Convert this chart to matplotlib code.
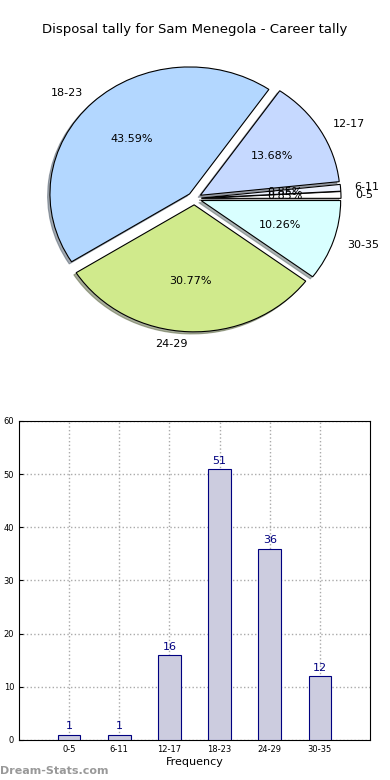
import matplotlib
matplotlib.use('Agg')
from matplotlib import pyplot as plt

labels = ['0-5', '6-11', '12-17', '18-23', '24-29', '30-35']
counts = [1, 1, 16, 51, 36, 12]
pie_colors = ['#ffffff', '#eef3ff', '#c6d9ff', '#b3d7ff', '#d0ea8c', '#d9ffff']
title = 'Disposal tally for Sam Menegola - Career tally'

fig = plt.figure(figsize=(3.9, 7.8), dpi=100)
fig.text(0.5, 1 - 30/780., title, ha='center', va='center', fontsize=9.5)

# pie, stretched like the old non-equal aspect
ax1 = fig.add_axes([0.051, 0.542, 0.895, 0.407])
wedges, texts, autotexts = ax1.pie(counts, labels=labels, colors=pie_colors,
                                   explode=[0.05]*len(counts), autopct='%.2f%%',
                                   shadow={'ox': -0.012, 'oy': -0.012, 'shade': 0.6},
                                   startangle=0,
                                   wedgeprops={'linewidth': 0.8, 'edgecolor': 'black'},
                                   textprops={'fontsize': 8})
ax1.set_aspect('auto')
ax1.set_xlim(-1.25, 1.25)
ax1.set_ylim(-1.25, 1.25)

# bar chart
ax2 = fig.add_axes([0.0487, 0.0513, 0.9, 0.409])
x = range(len(counts))
bars = ax2.bar(x, counts, width=0.45, color='#ccccdf', edgecolor='#000080', linewidth=0.8, zorder=3)
for xi, c in zip(x, counts):
    ax2.text(xi, c + 0.6, str(c), ha='center', va='bottom', fontsize=8, color='#000080', zorder=4)
ax2.set_xlim(-1, 6)
ax2.set_ylim(0, 60)
ax2.set_xticks(list(x))
ax2.set_xticklabels(labels, fontsize=6)
ax2.set_yticks(range(0, 61, 10))
ax2.tick_params(axis='y', labelsize=6)
ax2.tick_params(direction='in', length=3)
ax2.grid(True, linestyle=':', color='#aaaaaa', linewidth=1, zorder=0)
ax2.set_xlabel('Frequency', fontsize=8, labelpad=2)

fig.text(0.0, 1 - 771/780., 'Dream-Stats.com', ha='left', va='center',
         fontsize=8, color='#999999', fontweight='bold')

fig.savefig('out.png', dpi=100)
